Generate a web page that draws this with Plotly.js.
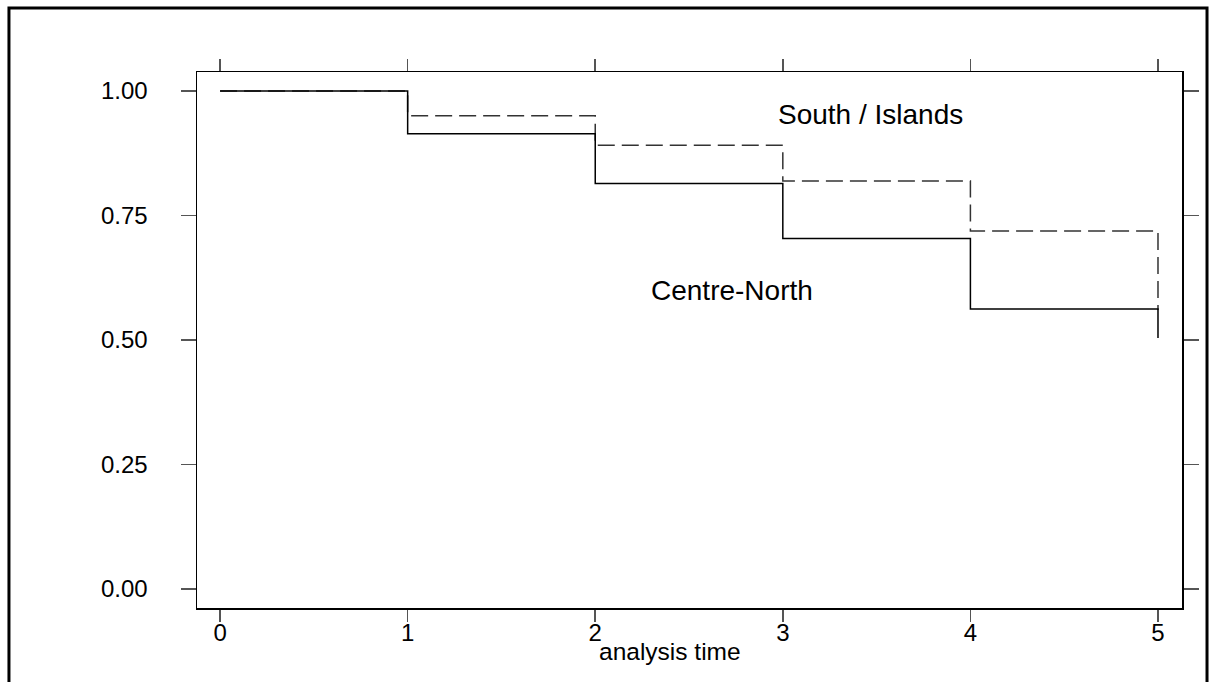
<!DOCTYPE html>
<html>
<head>
<meta charset="utf-8">
<script src="https://cdn.plot.ly/plotly-3.0.1.min.js"></script>
<style>html,body{margin:0;padding:0;background:#fff;}#chart{width:1211px;height:682px;}</style>
</head>
<body>
<div id="chart"></div>
<script>
// Data (Kaplan-Meier style step curves)
const timePoints = [0, 1, 2, 3, 4, 5];
const centreNorth = [1.00, 0.914, 0.814, 0.704, 0.562, 0.504];
const southIslands = [1.00, 0.950, 0.891, 0.819, 0.719, 0.560];
const xTickVals = [0, 1, 2, 3, 4, 5];
const xTickText = ["0", "1", "2", "3", "4", "5"];
const yTickVals = [0, 0.25, 0.5, 0.75, 1];
const yTickText = ["0.00", "0.25", "0.50", "0.75", "1.00"];
const labelNames = ["South / Islands", "Centre-North"];
const labelX = [3.465, 2.729];
const labelY = [0.952, 0.600];
const xTitle = "analysis time";

const traces = [
  {
    x: timePoints, y: southIslands, mode: "lines", line: {shape: "hv", color: "#333", width: 1.5, dash: "17px,7px"},
    name: labelNames[0], hoverinfo: "skip"
  },
  {
    x: timePoints, y: centreNorth, mode: "lines", line: {shape: "hv", color: "#000", width: 1.5},
    name: labelNames[1], hoverinfo: "skip"
  }
];

const font = {family: "Liberation Sans, Arial, sans-serif", color: "#000"};

const annotations = labelNames.map((t, i) => ({
  x: labelX[i], y: labelY[i], xref: "x", yref: "y", text: t, showarrow: false,
  font: {family: font.family, size: 28, color: "#000"}, xanchor: "center", yanchor: "middle"
}));
annotations.push({
  x: 0.480, y: -0.082, xref: "paper", yref: "paper", text: xTitle, showarrow: false,
  font: {family: font.family, size: 24.5, color: "#000"}, xanchor: "center", yanchor: "middle"
});

const layout = {
  width: 1211, height: 682,
  margin: {l: 197, r: 29, t: 72, b: 74, pad: 0},
  paper_bgcolor: "#fff", plot_bgcolor: "#fff",
  showlegend: false,
  font: font,
  xaxis: {
    range: [-0.123, 5.128], tickvals: xTickVals, ticktext: xTickText,
    ticks: "outside", ticklen: 12, tickwidth: 1.5, tickcolor: "#555",
    showline: true, linecolor: "#000", linewidth: 1.5, mirror: "ticks",
    showgrid: false, zeroline: false,
    ticklabelstandoff: -9,
    tickfont: {family: font.family, size: 24, color: "#000"}
  },
  yaxis: {
    range: [-0.038, 1.038], tickvals: yTickVals, ticktext: yTickText,
    ticks: "outside", ticklen: 15, tickwidth: 1.5, tickcolor: "#555",
    showline: true, linecolor: "#000", linewidth: 1.5, mirror: "ticks",
    showgrid: false, zeroline: false,
    ticklabelstandoff: 28,
    tickfont: {family: font.family, size: 24, color: "#000"}
  },
  annotations: annotations,
  shapes: [{
    type: "rect", xref: "paper", yref: "paper",
    x0: -0.1909, x1: 1.0254, y0: -0.16, y1: 1.1194,
    line: {color: "#000", width: 3}, fillcolor: "rgba(0,0,0,0)", layer: "above"
  }]
};

Plotly.newPlot("chart", traces, layout, {displayModeBar: false, staticPlot: true});
</script>
</body>
</html>
